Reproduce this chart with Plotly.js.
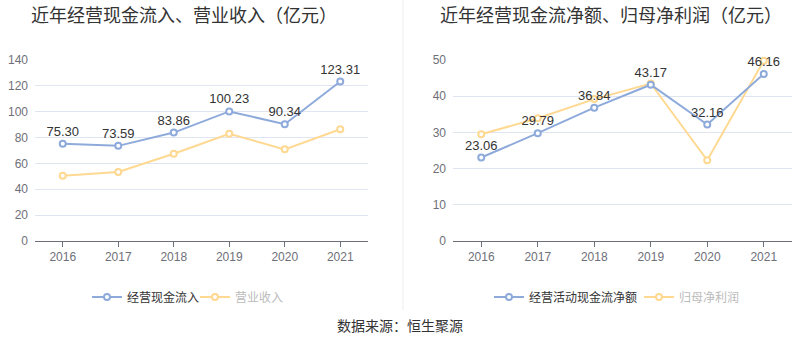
<!DOCTYPE html>
<html><head><meta charset="utf-8">
<script src="https://cdn.plot.ly/plotly-3.0.1.min.js"></script>
<style>html,body{margin:0;padding:0;background:#fff}#c{width:800px;height:358px}</style>
</head><body><div id="c"></div>
<script>
const years = ['2016','2017','2018','2019','2020','2021'];
const cashInflow = [75.30, 73.59, 83.86, 100.23, 90.34, 123.31];
const revenue = [50.5, 53.4, 67.5, 83.0, 70.9, 86.4];
const netOpCash = [23.06, 29.79, 36.84, 43.17, 32.16, 46.16];
const netProfit = [29.5, 33.9, 39.2, 43.5, 22.3, 49.8];
const leftTitle = '近年经营现金流入、营业收入（亿元）';
const rightTitle = '近年经营现金流净额、归母净利润（亿元）';
const source = '数据来源：恒生聚源';

const BLUE = '#8eaadb', ORANGE = '#ffd891';
const CJK = '"Noto Sans CJK SC", sans-serif';
const NUM = '"Liberation Sans", Arial, sans-serif';

function fmt(a){return a.map(v=>v.toFixed(2));}
function tr(x, y, name, color, xa, ya, legend, labels, dim){
  return {
    x: x, y: y, name: dim ? '<span style="color:#bbb">'+name+'</span>' : name,
    type: 'scatter', mode: labels ? 'lines+markers+text' : 'lines+markers',
    text: labels ? fmt(y) : undefined, textposition: 'top center',
    textfont: {family: NUM, size: 13, color: '#333'},
    line: {color: color, width: 2},
    marker: {symbol: 'circle', size: 6, color: '#fff', line: {color: color, width: 2}},
    xaxis: xa, yaxis: ya, legend: legend, cliponaxis: false, hoverinfo: 'skip'
  };
}
const data = [
  tr(years, revenue, '营业收入', ORANGE, 'x', 'y', 'legend2', false, true),
  tr(years, cashInflow, '经营现金流入', BLUE, 'x', 'y', 'legend', true, false),
  tr(years, netProfit, '归母净利润', ORANGE, 'x2', 'y2', 'legend4', false, true),
  tr(years, netOpCash, '经营活动现金流净额', BLUE, 'x2', 'y2', 'legend3', true, false)
];
const yDom = [117/358, 298/358];
const xax = (dom, anchor) => ({
  domain: dom, anchor: anchor, type: 'category', range: [-0.5, 5.5],
  showline: true, linecolor: '#6e7079', linewidth: 1, ticks: 'outside', ticklen: 5,
  tickcolor: '#6e7079', showgrid: false, zeroline: false,
  tickfont: {family: NUM, size: 12, color: '#6e7079'}, fixedrange: true
});
const yax = (anchor, max, dt) => ({
  domain: yDom, anchor: anchor, range: [0, max], dtick: dt, showline: false,
  gridcolor: '#e0e6f1', gridwidth: 1, zeroline: false, ticks: '',
  tickfont: {family: NUM, size: 12, color: '#6e7079'}, ticklabelstandoff: 6
});
const lg = (px) => ({x: px/800, y: 1 - 297/358, xanchor: 'left', yanchor: 'middle', orientation: 'h',
  font: {family: CJK, size: 12, color: '#333'}, itemwidth: 30, bgcolor: 'rgba(0,0,0,0)'});
const layout = {
  width: 800, height: 358, margin: {l: 0, r: 0, t: 0, b: 0},
  paper_bgcolor: '#fff', plot_bgcolor: '#fff', showlegend: true,
  xaxis: xax([35/800, 368/800], 'y'),
  yaxis: yax('x', 140, 20),
  xaxis2: xax([453/800, 792/800], 'y2'),
  yaxis2: yax('x2', 50, 10),
  legend: lg(87), legend2: lg(195), legend3: lg(489), legend4: lg(639),
  annotations: [
    {text: leftTitle, x: 184/800, y: 1 - 14/358, xref: 'paper', yref: 'paper', showarrow: false,
     xanchor: 'center', yanchor: 'middle', font: {family: CJK, size: 18, color: '#333'}},
    {text: rightTitle, x: 611/800, y: 1 - 14/358, xref: 'paper', yref: 'paper', showarrow: false,
     xanchor: 'center', yanchor: 'middle', font: {family: CJK, size: 18, color: '#333'}},
    {text: source, x: 0.5, y: 1 - 325/358, xref: 'paper', yref: 'paper', showarrow: false,
     xanchor: 'center', yanchor: 'middle', font: {family: CJK, size: 14, color: '#333'}}
  ],
  shapes: [
    {type: 'line', xref: 'paper', yref: 'paper', x0: 403/800, x1: 403/800, y0: 1 - 310/358, y1: 1,
     line: {color: '#eeeeee', width: 1}}
  ]
};
Plotly.newPlot('c', data, layout, {staticPlot: true, displayModeBar: false});
</script></body></html>
